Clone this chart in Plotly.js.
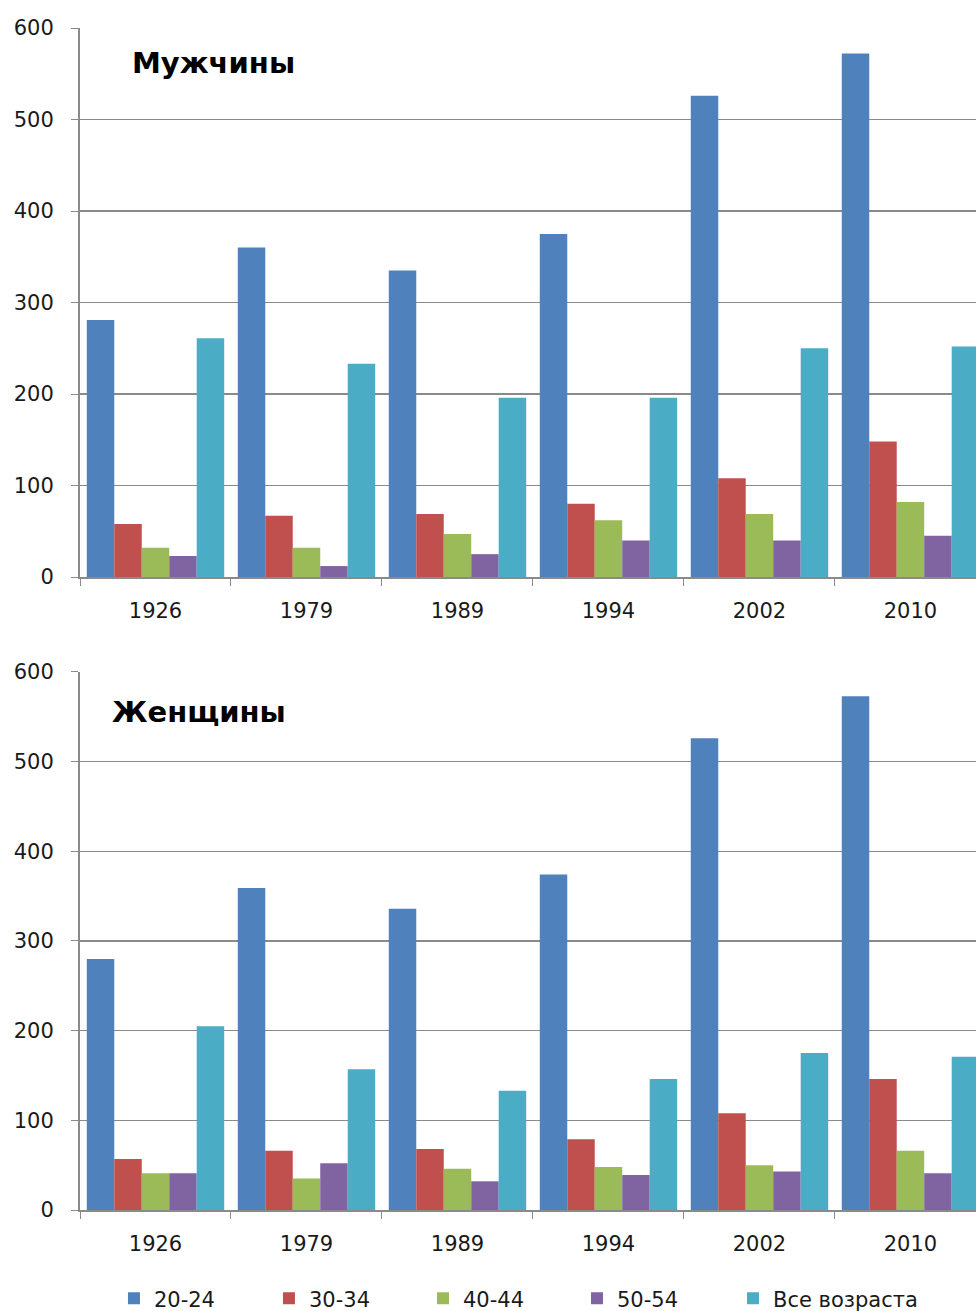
<!DOCTYPE html>
<html>
<head>
<meta charset="utf-8">
<script src="https://cdn.plot.ly/plotly-3.0.1.min.js"></script>
<style>html,body{margin:0;padding:0;background:#fff;}#chart{width:976px;height:1311px;}</style>
</head>
<body>
<div id="chart"></div>
<script>
const years = ["1926", "1979", "1989", "1994", "2002", "2010"];
const seriesNames = ["20-24", "30-34", "40-44", "50-54", "Все возраста"];
const seriesColors = ["#4F81BD", "#C0504D", "#9BBB59", "#8064A2", "#4BACC6"];

// Мужчины
const men_20_24 = [281, 360, 335, 375, 526, 572];
const men_30_34 = [58, 67, 69, 80, 108, 148];
const men_40_44 = [32, 32, 47, 62, 69, 82];
const men_50_54 = [23, 12, 25, 40, 40, 45];
const men_all = [261, 233, 196, 196, 250, 252];

// Женщины
const women_20_24 = [280, 359, 336, 374, 526, 573];
const women_30_34 = [57, 66, 68, 79, 108, 146];
const women_40_44 = [41, 35, 46, 48, 50, 66];
const women_50_54 = [41, 52, 32, 39, 43, 41];
const women_all = [205, 157, 133, 146, 175, 171];

const titleMen = "Мужчины";
const titleWomen = "Женщины";

const menSeries = [men_20_24, men_30_34, men_40_44, men_50_54, men_all];
const womenSeries = [women_20_24, women_30_34, women_40_44, women_50_54, women_all];

const legendIds = ["legend", "legend2", "legend3", "legend4", "legend5"];
const legendX = [0.0379, 0.2109, 0.3828, 0.5547, 0.7288];

const traces = [];
menSeries.forEach((vals, i) => {
  traces.push({type: "bar", x: years, y: vals, name: seriesNames[i], xaxis: "x", yaxis: "y",
    marker: {color: seriesColors[i]}, legendgroup: seriesNames[i], legend: legendIds[i],
    showlegend: true, hoverinfo: "y"});
});
womenSeries.forEach((vals, i) => {
  traces.push({type: "bar", x: years, y: vals, name: seriesNames[i], xaxis: "x2", yaxis: "y2",
    marker: {color: seriesColors[i]}, legendgroup: seriesNames[i], legend: legendIds[i],
    showlegend: false, hoverinfo: "y"});
});

const fam = "DejaVu Sans, Verdana, sans-serif";
const font = {family: fam, size: 21, color: "#1a1a1a"};
const xCommon = {
  type: "category", range: [-0.5, 5.434], tickson: "boundaries", ticks: "outside", ticklen: 7,
  tickcolor: "#8a8a8a", showline: true, linecolor: "#8a8a8a", linewidth: 2, showgrid: false,
  ticklabelstandoff: 14, tickfont: {family: fam, size: 21, color: "#1a1a1a"}, fixedrange: true
};
const yCommon = {
  range: [0, 600], dtick: 100, ticks: "outside", ticklen: 7, tickcolor: "#8a8a8a",
  showline: true, linecolor: "#8a8a8a", linewidth: 2, showgrid: true, gridcolor: "#8a8a8a", gridwidth: 1.5,
  zeroline: false, ticklabelstandoff: 13, tickfont: {family: fam, size: 21, color: "#1a1a1a"}, fixedrange: true
};

const layout = {
  width: 976, height: 1311,
  margin: {l: 80, r: 0, t: 28, b: 101, autoexpand: false},
  paper_bgcolor: "#fff", plot_bgcolor: "#fff",
  font: font,
  barmode: "group", bargap: 0.09, bargroupgap: 0,
  xaxis: Object.assign({}, xCommon, {anchor: "y", domain: [0, 1]}),
  xaxis2: Object.assign({}, xCommon, {anchor: "y2", domain: [0, 1]}),
  yaxis: Object.assign({}, yCommon, {anchor: "x", domain: [0.5355, 1]}),
  yaxis2: Object.assign({}, yCommon, {anchor: "x2", domain: [0, 0.4552]}),
  showlegend: true,
  annotations: [
    {text: "<b>" + titleMen + "</b>", xref: "paper", yref: "paper", x: 0.056, y: 0.9704,
      xanchor: "left", yanchor: "middle", showarrow: false,
      font: {family: fam, size: 29, color: "#000"}},
    {text: "<b>" + titleWomen + "</b>", xref: "paper", yref: "paper", x: 0.033, y: 0.4213,
      xanchor: "left", yanchor: "middle", showarrow: false,
      font: {family: fam, size: 29, color: "#000"}}
  ]
};
legendIds.forEach((id, i) => {
  layout[id] = {orientation: "h", x: legendX[i], xanchor: "left", y: -0.075, yanchor: "middle",
    itemwidth: 30, bgcolor: "rgba(0,0,0,0)",
    font: {family: fam, size: 21, color: "#1a1a1a"}};
});

Plotly.newPlot("chart", traces, layout, {displayModeBar: false, staticPlot: true});
</script>
</body>
</html>
